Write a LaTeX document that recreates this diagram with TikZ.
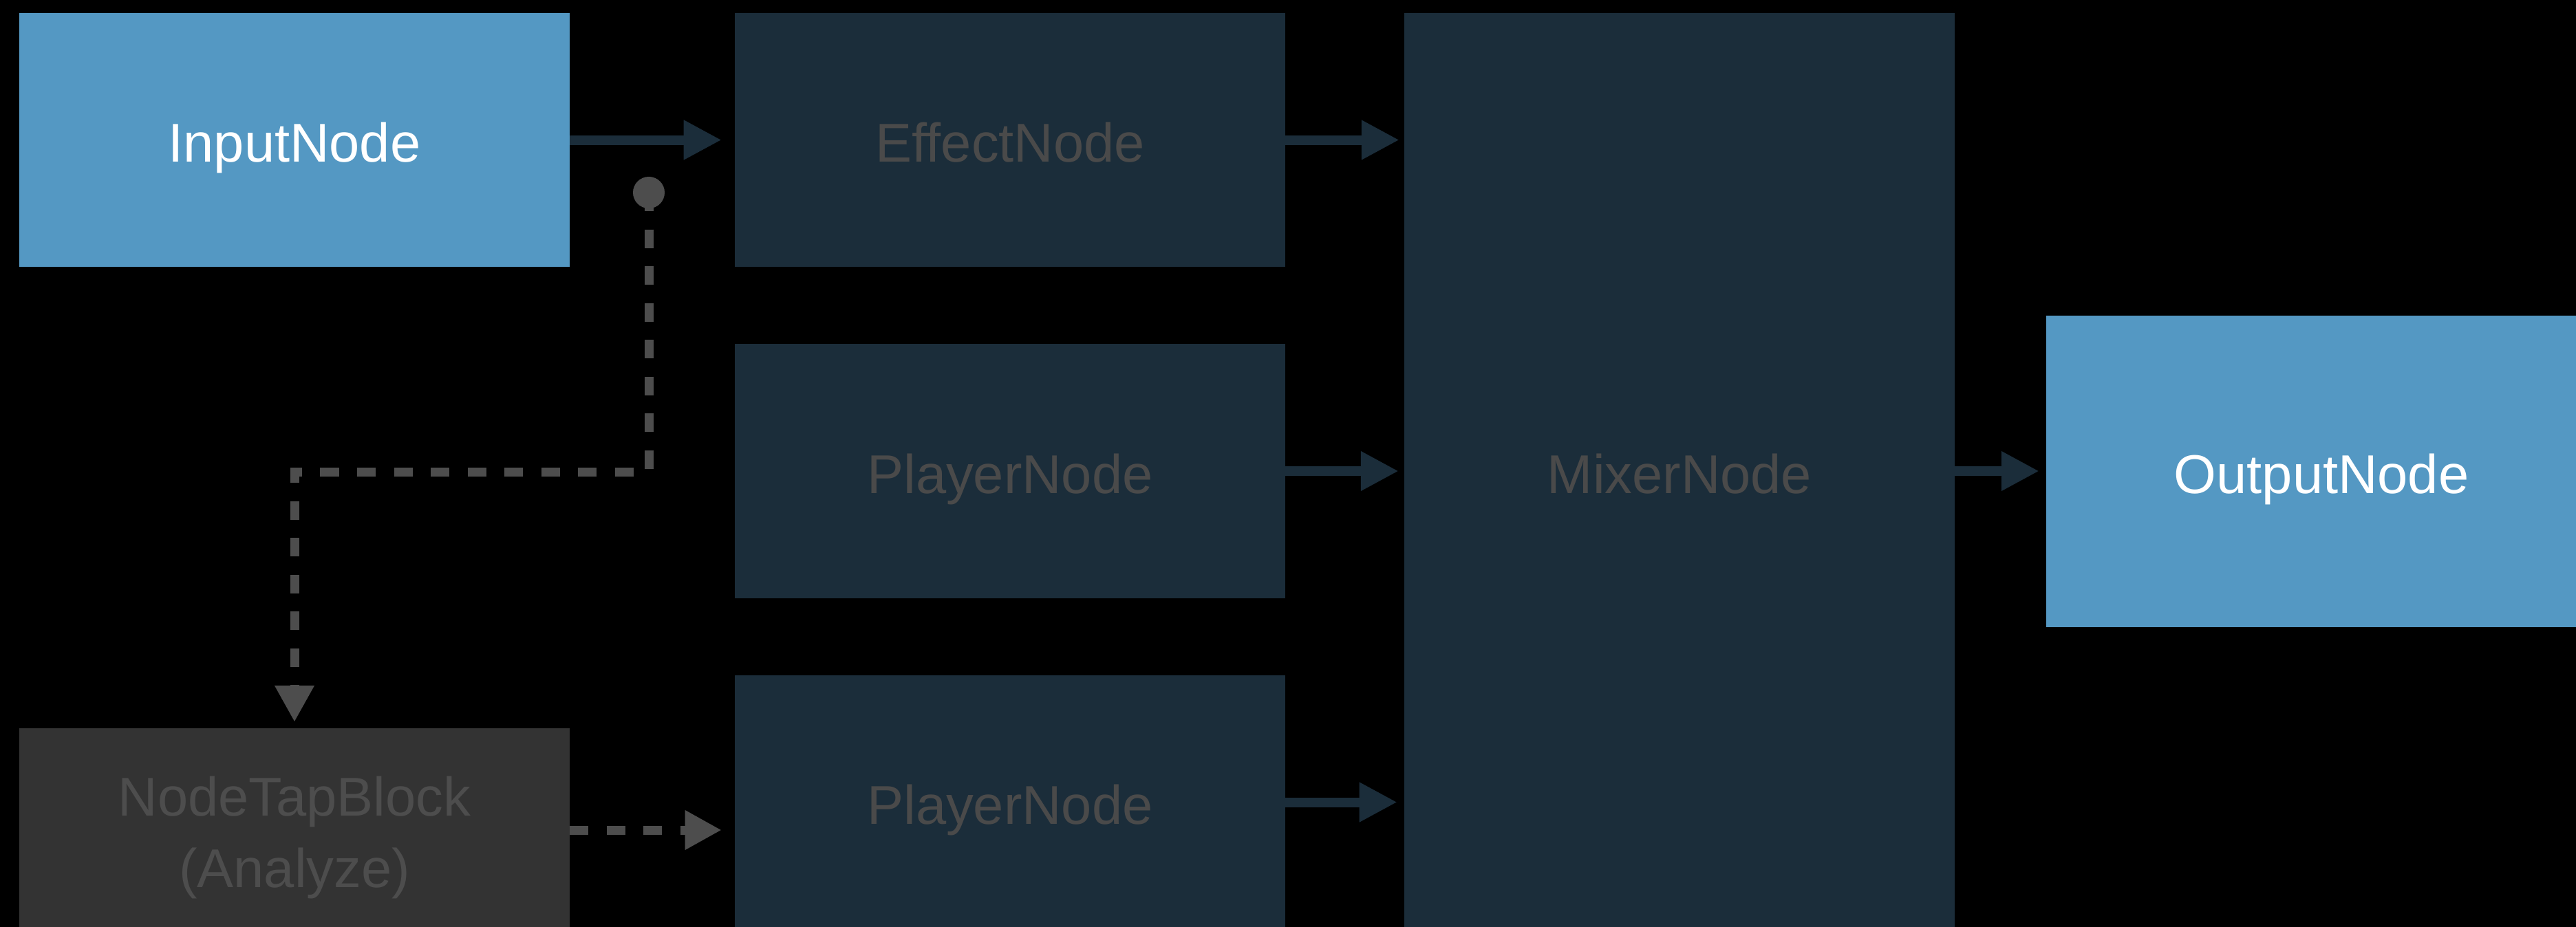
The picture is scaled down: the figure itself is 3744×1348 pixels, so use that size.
\documentclass[tikz,border=0pt]{standalone}
\usepackage{fontspec}
\setmainfont{Liberation Sans}
\usetikzlibrary{arrows.meta,calc}
\definecolor{blueN}{HTML}{5498C3}
\definecolor{darkN}{HTML}{1B2D3A}
\definecolor{grayT}{HTML}{4A4A4A}
\definecolor{tapN}{HTML}{333333}
\definecolor{dashC}{HTML}{4D4D4D}
\begin{document}
\begin{tikzpicture}[x=0.01cm,y=-0.01cm,
  labelfont/.style={font=\fontsize{22.6pt}{29.5pt}\selectfont},
  box/.style={rectangle, inner sep=0pt, outer sep=0pt, minimum width=8cm,
    minimum height=3.69cm, labelfont, text height=0.64cm, text depth=0pt},
  bluebox/.style={box, fill=blueN, text=white},
  darkbox/.style={box, fill=darkN, text=grayT},
  flow/.style={draw=darkN, line width=0.14cm,
    -{Triangle[length=0.55cm,width=0.54cm]}},
  tapflow/.style={draw=dashC, line width=0.13cm,
    dash pattern=on 0.27cm off 0.265cm,
    -{Triangle[length=0.53cm,width=0.54cm]}}]
\useasboundingbox (0,0) rectangle (3744,1348);
\fill[black] (0,0) rectangle (3744,1348);
\clip (0,0) rectangle (3744,1348);

\node[bluebox] (in) at (428,203.5) {InputNode};
\node[darkbox] (eff) at (1468,203.5) {EffectNode};
\node[darkbox] (p1) at (1468,685) {PlayerNode};
\node[darkbox] (p2) at (1468,1166.5) {PlayerNode};
\node[darkbox, minimum height=13.32cm] (mix) at (2441,685) {MixerNode};
\node[bluebox, minimum height=4.53cm] (out) at (3374,685.5) {OutputNode};
\node[box, fill=tapN, minimum height=2.96cm] (tap) at (428,1207) {};
\node[labelfont, text=dashC, align=center, inner sep=0pt] (taplabel) at (428,1218)
  {NodeTapBlock\\(Analyze)};

\node[circle, fill=dashC, inner sep=0pt, minimum size=0.46cm] (dot) at (943,280) {};
\coordinate (bend) at (943,686);

\draw[flow, shorten >=0.19cm] (in.east) -- (in.east -| eff.west);
\draw[flow, shorten >=0.07cm] (eff.east) -- (eff.east -| mix.west);
\draw[flow, shorten >=0.08cm] (p1.east) -- (p1.east -| mix.west);
\draw[flow, shorten >=0.10cm] (p2.east) -- (p2.east -| mix.west);
\draw[flow, shorten >=0.10cm] (mix.east) -- (mix.east -| out.west);

\draw[tapflow, shorten >=0.09cm] (dot.center) -- (bend) -| (tap.north);
\draw[tapflow, shorten >=0.19cm] (tap.east) -- (tap.east -| p2.west);
\end{tikzpicture}
\end{document}
